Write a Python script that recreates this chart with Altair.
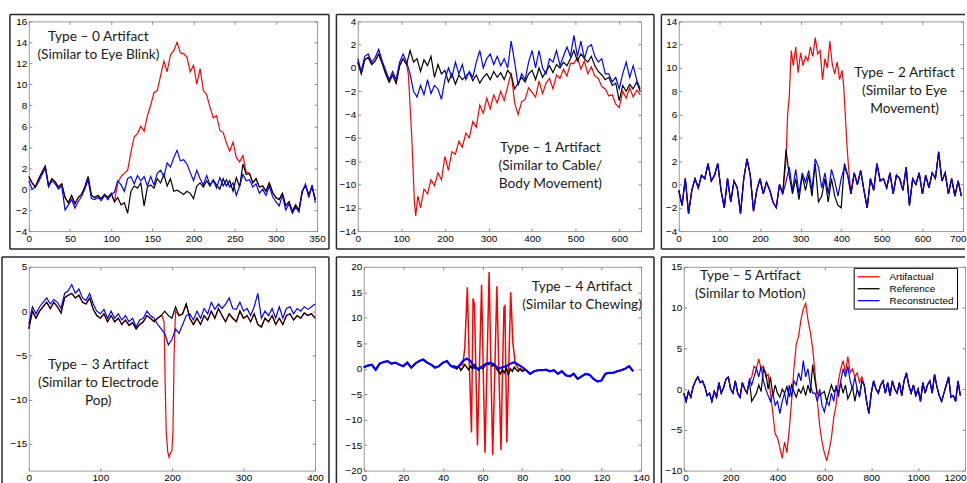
import altair as alt
import pandas as pd

SERIES = ["Artifactual", "Reference", "Reconstructed"]
COLORS = ["#ff0000", "#000000", "#0000ff"]

# ---------------- Panel 1 : Type 0 (eye blink) ----------------
p1_x = list(range(0, 352, 4))
p1_ref = [1.2, 0.6, 0.2, 1.0, 1.6, 2.2, 0.3, 1.0, 0.7, 0.2,
          0.5, -0.8, -1.3, -0.6, -1.4, -0.8, -0.5, 0.2, 1.2, -0.6,
          -0.8, -0.6, -0.9, -0.5, -0.8, -0.4, -1.2, -0.8, -1.5, -1.3,
          -2.3, -0.2, 0.3, 0.1, 0.6, -1.6, 0.2, 0.4, 0.1, 1.0,
          0.6, 1.4, 0.3, 1.0, -0.2, -0.1, -0.3, -0.5, -0.2, -0.4,
          -0.9, 0.3, 0.6, 0.2, 0.8, 0.3, 0.9, 0.4, 0.0, 1.0,
          0.3, 0.8, -0.2, 1.1, 0.2, 2.4, 1.4, 1.5, 0.6, 1.0,
          0.2, 0.3, -0.2, 0.6, -0.3, -0.8, -1.0, -0.4, -1.6, -1.2,
          -2.1, -1.5, -2.0, -0.2, 0.3, -0.5, 0.2, -1.0]
p1_rec = [0.8, 0.0, 0.2, 0.7, 1.4, 2.0, 0.2, 0.8, 0.5, 0.0,
          0.3, -2.0, -1.5, -1.0, -1.8, -1.2, -0.7, 0.0, 0.9, -0.9,
          -1.0, -0.8, -1.1, -0.6, -1.0, -0.5, -0.3, 0.8, 0.4, -0.2,
          1.0, 1.2, 0.5, 1.3, 0.8, 1.2, 0.3, 1.2, 0.4, 1.5,
          1.8, 1.2, 2.5, 2.1, 3.0, 3.7, 2.7, 2.8, 2.4, 1.6,
          0.8, 1.8, 1.0, 0.4, 1.3, 0.4, 0.8, 0.1, 1.1, 0.3,
          0.9, 0.2, 0.6, -0.6, 0.3, 1.4, 0.8, 0.9, 0.2, 0.5,
          -0.4, 0.0, -0.6, 0.3, -0.7, -1.2, -1.6, -0.6, -2.0, -1.4,
          -2.3, -1.7, -2.2, -0.3, 0.5, -0.8, 0.4, -1.3]
p1_art_x = list(range(108, 268, 4))
p1_art_y = [0.6, 1.2, 1.5, 1.8, 3.5, 5.0, 5.3, 6.0, 5.5, 7.0,
            8.0, 9.2, 9.4, 10.8, 12.2, 11.2, 12.8, 13.2, 14.0, 13.0,
            12.9, 12.6, 11.2, 11.8, 10.0, 11.5, 9.4, 9.0, 7.8, 6.8,
            7.0, 5.6, 5.4, 4.4, 3.6, 4.5, 3.0, 2.6, 3.2, 1.6]
p1_note_x = [84.5, 84.5]
p1_note_y = [14.5, 12.8]
p1_notes = ["Type \u2013 0 Artifact", "(Similar to Eye Blink)"]

# ---------------- Panel 2 : Type 1 (cable / body movement) ----------------
p2_x = list(range(0, 656, 8))
p2_ref = [0.5, -0.5, 0.7, 0.9, 0.3, 0.6, 1.2, 0.4, -0.5, -1.2,
          -0.6, -1.3, 0.2, 0.8, 0.3, 1.5, 0.5, 0.8, -0.3, 0.7,
          0.2, 1.0, -0.8, 0.3, -0.5, -0.2, -1.2, -0.5, -1.4, -0.6,
          -1.0, -0.7, -0.4, -1.1, -0.6, -1.3, -0.8, -0.5, -1.0, -0.3,
          -0.8, -0.4, -1.0, -0.2, -0.6, -1.8, -1.3, -0.8, -1.2, -0.5,
          -0.2, -1.0, 0.0, -0.8, -0.3, 0.2, -0.4, 0.3, 0.0, 0.5,
          0.2, 0.8, 1.5, 0.6, 1.2, 0.8, 0.5, 1.0, 0.2, -0.3,
          -0.6, -1.0, -0.8, -1.5, -1.3, -2.8, -1.5, -2.0, -1.4, -1.8,
          -1.2, -2.0]
p2_rec = [0.8, -0.3, 1.0, 1.2, 0.5, 0.9, 1.6, 0.6, -0.2, -1.0,
          -0.3, -1.0, 0.5, 1.2, 0.5, -0.5, -2.0, -2.5, -1.5, -2.3,
          -1.0, -2.2, -1.5, -1.8, -2.7, -1.0, 0.0, -0.8, 0.5, -0.5,
          0.3, -1.0, -0.3, -0.8, 0.5, 1.5, 0.0, 0.8, 1.2, 0.3,
          1.0, 0.2, 0.8, 0.0, 2.3, 0.5, -1.5, -0.5, -1.0, 0.5,
          1.5, 0.0, 1.5, 0.0, -0.5, 0.8, 0.5, 1.5, 0.2, 1.0,
          1.8, 1.0, 2.8, 1.0, 2.3, 0.8, 1.8, 2.0, 1.0, 0.5,
          0.8, -0.5, -0.5, -1.2, -0.8, -1.8, -0.5, 0.5, -0.8, 0.2,
          -1.0, -1.8]
p2_art_x = [116, 124, 130, 133, 138] + list(range(144, 656, 8))
p2_art_y = [-0.5, -6.0, -11.5, -12.7, -11.0,
            -12.0, -10.4, -10.8, -9.6, -10.1, -9.0, -9.6, -7.6, -8.8, -7.2,
            -7.4, -6.3, -6.8, -5.6, -6.0, -4.6, -5.1, -3.2, -3.9, -2.6,
            -3.5, -2.3, -3.0, -2.0, -2.8, -1.6, -0.4, -3.0, -4.0, -2.9,
            -2.7, -1.7, -2.1, -2.5, -1.1, -2.2, -1.3, -0.9, -1.8, -0.6,
            -0.9, -0.1, -0.7, 0.4, 0.4, 0.9, -0.1, 0.6, -0.5, 0.1,
            -0.7, -0.9, -1.6, -1.8, -2.4, -2.3, -3.1, -3.4, -2.0, -2.6,
            -1.7, -2.5, -1.9, -2.3]
p2_note_x = [442, 442, 442]
p2_note_y = [-6.9, -8.45, -10.0]
p2_notes = ["Type \u2013 1 Artifact", "(Similar to Cable/", "Body Movement)"]

# ---------------- Panel 3 : Type 2 (eye movement) ----------------
p3_x = list(range(0, 704, 8))
p3_rec = [-0.5, -1.8, 0.5, -2.5, -0.5, 0.5, -0.3, 0.8, 0.5, 1.8,
          0.3, 0.8, 1.8, -0.5, -2.0, 0.5, -1.5, 0.3, -0.3, -2.5,
          0.5, 2.2, 0.8, -2.3, -0.5, 0.5, -0.8, 0.2, -0.5, -1.5,
          -2.0, 0.0, -0.8, 0.2, 1.5, -0.5, 1.3, -0.8, 1.0, 0.2,
          1.2, -0.5, 2.2, 1.5, -0.3, 1.0, -0.8, 1.3, 0.3, -1.0,
          0.5, 1.5, 0.8, -0.8, 1.0, 0.0, 1.2, -0.5, -2.0, 0.5,
          -0.5, 1.8, 0.3, 0.5, -0.3, 1.0, -0.8, 0.8, 0.5, -0.5,
          1.5, -1.8, 0.5, 0.0, 1.0, -0.8, 0.8, -0.3, 1.0, 0.5,
          2.8, 0.3, 1.0, -0.8, 0.5, -1.0, 0.3, -1.0]
p3_ref_seg_x = list(range(264, 416, 8))
p3_ref_seg_y = [3.0, 0.8, -0.8, 0.5, -1.3, 0.8, -0.5, 0.8, -1.0, 1.8,
                -1.5, -1.0, 0.5, -1.5, 0.5, -1.0, -1.8, -2.0, 1.8]
p3_art_x = [264, 268, 272, 277, 282, 288, 294, 300, 306, 312,
            318, 324, 330, 336, 342, 348, 354, 360, 366, 372,
            378, 384, 390, 396, 402, 406, 410, 414, 418]
p3_art_y = [2.0, 6.0, 7.5, 11.5, 10.2, 11.8, 9.6, 11.3, 10.2, 11.0,
            10.6, 11.8, 11.0, 12.6, 11.2, 11.5, 9.0, 10.8, 10.0, 12.3,
            10.3, 9.5, 10.5, 9.0, 9.8, 8.5, 6.0, 3.5, 1.5]
p3_note_x = [556, 556, 556]
p3_note_y = [9.56, 8.03, 6.49]
p3_notes = ["Type \u2013 2 Artifact", "(Similar to Eye", "Movement)"]

# ---------------- Panel 4 : Type 3 (electrode pop) ----------------
p4_x = list(range(0, 405, 5))
p4_ref = [-2.0, 0.0, -0.8, 0.0, 0.5, 1.0, 0.3, 1.0, 0.5, -0.2,
          1.5, 1.8, 2.0, 1.5, 1.8, 1.0, 0.8, 1.5, 0.2, -0.5,
          -0.8, -0.3, -1.2, -0.5, -1.2, -0.8, -1.5, -1.0, -1.6, -1.3,
          -2.0, -1.5, -1.2, -0.5, -0.8, -1.2, -0.8, -0.5, 0.0, -0.5,
          -0.8, 0.5, -0.5, -0.3, 0.8, -0.8, -1.5, -0.8, -1.5, -0.5,
          -1.0, 0.0, -0.8, 0.3, -0.5, -1.2, -0.3, -0.8, -1.2, 0.0,
          -0.8, -0.5, -1.2, -0.3, -1.5, -1.8, -0.8, -1.2, -0.5, -1.5,
          -0.8, -1.5, -0.5, -0.3, -1.0, -0.5, -0.8, -0.2, -0.5, -0.3,
          -0.8]
p4_rec = [-1.5, 0.5, -0.3, 0.5, 1.0, 1.5, 0.8, 1.3, 1.0, 0.3,
          2.0, 2.3, 3.0, 2.0, 2.5, 1.5, 1.2, 2.0, 0.8, 0.0,
          -0.3, 0.2, -0.8, 0.0, -0.8, -0.3, -1.0, -0.5, -1.2, -0.8,
          -1.8, -1.0, -0.8, 0.0, -0.5, -0.8, -1.5, -2.0, -2.5, -3.8,
          -3.2, -2.0, -2.5, -1.5, -0.5, -0.3, -1.0, 0.0, -0.8, 0.3,
          -0.3, 1.0, 0.2, 0.8, 0.3, 0.8, 1.5, 0.3, 0.2, 1.0,
          0.0, 0.3, -0.5, 0.5, 2.0, -0.8, 0.0, -0.5, 0.3, -0.8,
          0.5, -0.8, 0.3, 0.5, -0.3, 0.3, 0.0, 0.5, 0.2, 0.5,
          0.8]
p4_art_x = [186, 189, 190.5, 192, 194, 196, 198, 200, 201.5, 203, 205]
p4_art_y = [-0.5, -1.2, -8.0, -13.5, -15.8, -16.5, -16.0, -15.8, -13.5, -5.0, 0.0]
p4_note_x = [97, 97, 97]
p4_note_y = [-6.1, -8.13, -10.15]
p4_notes = ["Type \u2013 3 Artifact", "(Similar to Electrode", "Pop)"]

# ---------------- Panel 5 : Type 4 (chewing) ----------------
p5_x = list(range(0, 138, 2))
p5_rec = [0.3, 0.6, 0.8, -0.2, 1.0, 1.3, 1.5, 1.0, 1.2, 0.8,
          0.5, 1.2, 0.2, 1.0, 1.5, 1.8, 1.2, 0.8, 0.2, 0.5,
          1.2, 1.5, 0.5, 0.2, 0.5, 1.5, 2.0, 1.5, 0.2, 0.0,
          0.5, 1.0, 1.2, 0.8, 0.0, 0.3, 0.5, 1.0, 1.3, 0.8,
          0.3, -0.3, -1.0, -0.5, -0.3, -0.3, -0.2, -0.5, -0.3, -1.0,
          -0.5, -1.3, -1.5, -1.0, -2.0, -1.5, -1.0, -1.2, -2.0, -2.5,
          -2.3, -1.0, -0.8, -0.8, -0.5, -0.3, 0.0, 0.5, -0.5]
p5_ref_seg_x = list(range(46, 83))
p5_ref_seg_y = [0.5, 0.0, 0.5, -0.3, 0.2, 0.8, 0.3, -0.2, 0.5, 0.0,
                0.8, 0.2, -0.3, 0.3, 0.0, 0.5, 1.0, 0.8, 1.2, 0.5,
                0.8, 0.0, -0.5, -1.0, -0.2, -0.8, 0.2, -1.2, 0.0, -0.5,
                0.3, -0.2, -0.5, 0.0, -0.5, -0.3, -0.3]
p5_art_x = [48, 50, 51, 52.3, 53.3, 54.4, 55.2, 55.9, 56.6, 57.4,
            58.4, 59.5, 60.3, 61.2, 62.2, 63.3, 64.2, 65.1, 66.2, 67.2,
            68.2, 69.3, 70.1, 70.8, 71.3, 72.2, 73.2, 74.2, 75.3, 76.5,
            78, 80]
p5_art_y = [0.5, 0.8, 4.0, 16.0, 1.0, -12.5, 13.8, 12.5, 0.0, -15.0,
            0.0, 16.5, 0.5, -16.5, 0.0, 19.0, 0.5, -17.0, 0.0, 16.2,
            0.0, -16.0, 0.0, 12.0, 12.3, -14.5, 0.0, 15.0, 5.0, 1.0,
            0.0, -0.3]
p5_note_x = [110.2, 110.2]
p5_note_y = [16.0, 12.45]
p5_notes = ["Type \u2013 4 Artifact", "(Similar to Chewing)"]

# ---------------- Panel 6 : Type 5 (motion) ----------------
p6_x = list(range(0, 1190, 10))
p6_rec = [-0.5, -1.5, -0.3, -1.0, 0.3, 1.0, 1.5, 0.8, 1.0, 0.3,
          -0.8, -0.5, -1.5, -0.3, -1.0, 0.8, -0.5, 0.2, 1.2, 1.5,
          0.0, -0.5, 1.0, -0.5, -1.0, 0.8, 0.0, -0.5, 1.2, 0.5,
          1.5, 2.5, 1.5, 2.8, 1.0, 0.0, -0.8, -1.5, -0.5, -2.0,
          -1.5, -3.0, -1.5, -0.5, -2.0, 0.5, -1.0, 1.0, 0.5, 2.0,
          1.0, 3.5, 1.5, 2.5, 0.5, -0.5, -0.5, -1.5, 0.0, -2.0,
          -2.8, -1.5, -2.0, -0.5, -1.5, 0.5, -1.0, 1.0, 2.5, 1.5,
          2.8, 1.0, 0.0, 1.5, 0.0, -1.0, 1.0, 0.5, -1.5, -3.0,
          -0.5, 1.0, 0.0, -0.5, 0.5, 1.0, -0.5, 0.8, -0.8, 1.0,
          0.0, -0.5, 0.8, -0.8, 1.0, 2.0, 0.5, -0.5, 0.5, -0.8,
          0.0, -1.5, 0.8, -0.5, 0.5, 1.0, -0.5, 1.8, 0.3, -0.8,
          -1.5, -0.5, 0.5, 1.5, -1.0, -0.8, -1.5, 1.0, -0.8]
p6_ref_seg_x = list(range(280, 770, 10))
p6_ref_seg_y = [1.0, -1.5, -1.0, -0.5, 0.5, -0.3, 2.5, 2.0, 0.0, 1.5,
                -0.8, 0.5, -0.5, -1.0, 0.0, -0.5, 0.3, -1.0, 0.5, -0.3,
                -1.0, 0.0, -0.5, 0.3, -0.8, 0.5, -0.5, 3.0, 1.0, -0.5,
                -0.8, -0.5, -0.3, -1.5, -0.5, 0.5, -0.3, 0.0, -0.5, 0.8,
                -0.5, 0.5, -1.2, -0.5, 0.3, -1.5, 0.0, -0.8, 1.0]
p6_art_x = list(range(290, 780, 10))
p6_art_y = [1.5, 2.8, 2.5, 3.7, 2.5, 2.8, 1.5, 1.8, -0.5, -3.0,
            -5.5, -6.0, -7.2, -8.5, -6.5, -7.8, -5.0, -1.5, 2.5, 5.5,
            6.5, 8.5, 9.8, 10.5, 8.5, 7.0, 5.0, 2.0, -1.5, -4.5,
            -6.5, -7.8, -8.8, -7.5, -6.0, -3.5, -2.0, 1.0, 2.5, 3.5,
            2.0, 4.0, 2.0, 2.5, 1.5, 2.0, 0.8, 1.5, 0.5]
p6_note_x = [284, 284]
p6_note_y = [13.87, 11.62]
p6_notes = ["Type \u2013 5 Artifact", "(Similar to Motion)"]


def splice(bx, by, sx, sy):
    lo, hi = sx[0], sx[-1]
    pts = [(a, b) for a, b in zip(bx, by) if a < lo] + list(zip(sx, sy)) + \
          [(a, b) for a, b in zip(bx, by) if a > hi]
    return [p[0] for p in pts], [p[1] for p in pts]


FRAME_COLOR = "#2a2a2a"
LEGEND = alt.Legend(title=None, orient="none", legendX=830, legendY=248,
                    fillColor="white", strokeColor="black", padding=3,
                    symbolType="M-1,0H3.4", symbolSize=100, symbolStrokeWidth=1.3,
                    labelFont="Liberation Sans", labelFontSize=10, rowPadding=1,
                    labelOffset=21, cornerRadius=0)
CSCALE = alt.Scale(domain=SERIES, range=COLORS)


def rule(x1, x2, y1, y2, op=1):
    d = pd.DataFrame({"k": [0]})
    return alt.Chart(d).mark_rule(color=FRAME_COLOR, strokeWidth=1.5, opacity=op).encode(
        x=alt.value(x1), x2=alt.value(x2), y=alt.value(y1), y2=alt.value(y2))


def panel(series, xdom, ydom, xticks, yticks, w, h, notes, frame, widths, flush=None):
    layers = [rule(*seg) for seg in frame]
    for i, (name, xs, ys) in enumerate(series):
        df = pd.DataFrame({"x": xs, "y": ys, "s": [name] * len(xs)})
        if flush is None:
            ax = alt.Axis(title=None, values=xticks, format="d", labelPadding=2,
                          labelFlush=False, labelOverlap=False)
        else:
            ax = alt.Axis(title=None, values=xticks, format="d", labelPadding=2,
                          labelFlush=True, labelFlushOffset=flush, labelOverlap=False)
        ay = alt.Axis(title=None, values=yticks, format="d", labelPadding=2,
                      labelFlush=False, labelOverlap=False)
        layers.append(alt.Chart(df).mark_line(strokeWidth=widths[i]).encode(
            x=alt.X("x:Q", scale=alt.Scale(domain=xdom, nice=False, zero=False),
                    axis=ax if i == 0 else None),
            y=alt.Y("y:Q", scale=alt.Scale(domain=ydom, nice=False, zero=False),
                    axis=ay if i == 0 else None),
            color=alt.Color("s:N", scale=CSCALE, legend=LEGEND)))
    nx, ny, nt = notes
    nd = pd.DataFrame({"x": nx, "y": ny, "t": nt})
    layers.append(alt.Chart(nd).mark_text(font="Lato", fontSize=13.8, color="#1a1a1a",
                                          align="center", baseline="middle").encode(
        x=alt.X("x:Q", scale=alt.Scale(domain=xdom, nice=False, zero=False),
                axis=alt.Axis(title=None, orient="top", values=xticks, labels=False)),
        y=alt.Y("y:Q", scale=alt.Scale(domain=ydom, nice=False, zero=False),
                axis=alt.Axis(title=None, orient="right", values=yticks, labels=False)),
        text="t:N"))
    return alt.layer(*layers).properties(width=w, height=h).resolve_axis(
        x="independent", y="independent")


TH, BH = 211, 205

p1_red = splice(p1_x, p1_ref, p1_art_x, p1_art_y)
c1 = panel([("Artifactual", *p1_red), ("Reference", p1_x, p1_ref), ("Reconstructed", p1_x, p1_rec)],
           [0, 350], [-4, 16], list(range(0, 351, 50)), list(range(-4, 17, 2)), 290, TH,
           (p1_note_x, p1_note_y, p1_notes),
           [(-19, 302, -7, -7), (-19, 302, 229, 229), (-19, -19, -7, 229), (302, 302, -7, 229),
            (-27, -27, -7, 229, 0)],
           [1.2, 1.2, 1.2])

p2_red = splice(p2_x, p2_ref, p2_art_x, p2_art_y)
c2 = panel([("Artifactual", *p2_red), ("Reference", p2_x, p2_ref), ("Reconstructed", p2_x, p2_rec)],
           [0, 650], [-14, 4], list(range(0, 601, 100)), list(range(-14, 5, 2)), 285, TH,
           (p2_note_x, p2_note_y, p2_notes),
           [(-21.5, 298, -7, -7), (-21.5, 298, 229, 229), (-21.5, -21.5, -7, 229), (298, 298, -7, 229)],
           [1.2, 1.2, 1.2])

p3_ref = splice(p3_x, p3_rec, p3_ref_seg_x, p3_ref_seg_y)
p3_red = splice(p3_ref[0], p3_ref[1], p3_art_x, p3_art_y)
c3 = panel([("Artifactual", *p3_red), ("Reference", *p3_ref), ("Reconstructed", p3_x, p3_rec)],
           [0, 700], [-4, 14], list(range(0, 701, 100)), list(range(-4, 15, 2)), 286, TH,
           (p3_note_x, p3_note_y, p3_notes),
           [(-17.5, 288, -7, -7), (-17.5, 288, 229, 229), (-17.5, -17.5, -7, 229)],
           [1.2, 1.2, 1.2], flush=3)

p4_red = splice(p4_x, p4_ref, p4_art_x, p4_art_y)
c4 = panel([("Artifactual", *p4_red), ("Reference", p4_x, p4_ref), ("Reconstructed", p4_x, p4_rec)],
           [0, 400], [-18, 5], list(range(0, 401, 100)), list(range(-15, 6, 5)), 288, BH,
           (p4_note_x, p4_note_y, p4_notes),
           [(-27, 302, -10, -10), (-27, -27, -10, 218), (302, 302, -10, 218)],
           [1.2, 1.2, 1.2])

p5_ref = splice(p5_x, p5_rec, p5_ref_seg_x, p5_ref_seg_y)
p5_red = splice(p5_ref[0], p5_ref[1], p5_art_x, p5_art_y)
c5 = panel([("Artifactual", *p5_red), ("Reference", *p5_ref), ("Reconstructed", p5_x, p5_rec)],
           [0, 140], [-20, 20], list(range(0, 141, 20)), list(range(-20, 21, 5)), 279, BH,
           (p5_note_x, p5_note_y, p5_notes),
           [(-27.5, 292, -10, -10), (-27.5, -27.5, -10, 218), (292, 292, -10, 218)],
           [1.5, 1.5, 2.2])

p6_ref = splice(p6_x, p6_rec, p6_ref_seg_x, p6_ref_seg_y)
p6_red = splice(p6_ref[0], p6_ref[1], p6_art_x, p6_art_y)
c6 = panel([("Artifactual", *p6_red), ("Reference", *p6_ref), ("Reconstructed", p6_x, p6_rec)],
           [0, 1200], [-10, 15], list(range(0, 1201, 200)), list(range(-10, 16, 5)), 283, BH,
           (p6_note_x, p6_note_y, p6_notes),
           [(-22.5, 283, -10, -10), (-22.5, -22.5, -10, 218)],
           [1.2, 1.2, 1.2], flush=1)

top = alt.hconcat(c1, c2, c3, spacing=4)
bot = alt.hconcat(c4, c5, c6, spacing=4)

chart = alt.vconcat(top, bot, spacing=4).resolve_scale(color="shared").properties(
    padding={"left": 0, "top": 11, "right": 0, "bottom": 0},
    background="white",
).configure_view(
    stroke="#9a9a9a", strokeWidth=1
).configure_axis(
    labelFont="Liberation Sans", labelFontSize=10, labelColor="black",
    tickColor="#8a8a8a", tickSize=3, offset=-3, domain=False, grid=False,
)

chart.save("out.html", embed_options={"renderer": "svg", "actions": False})
